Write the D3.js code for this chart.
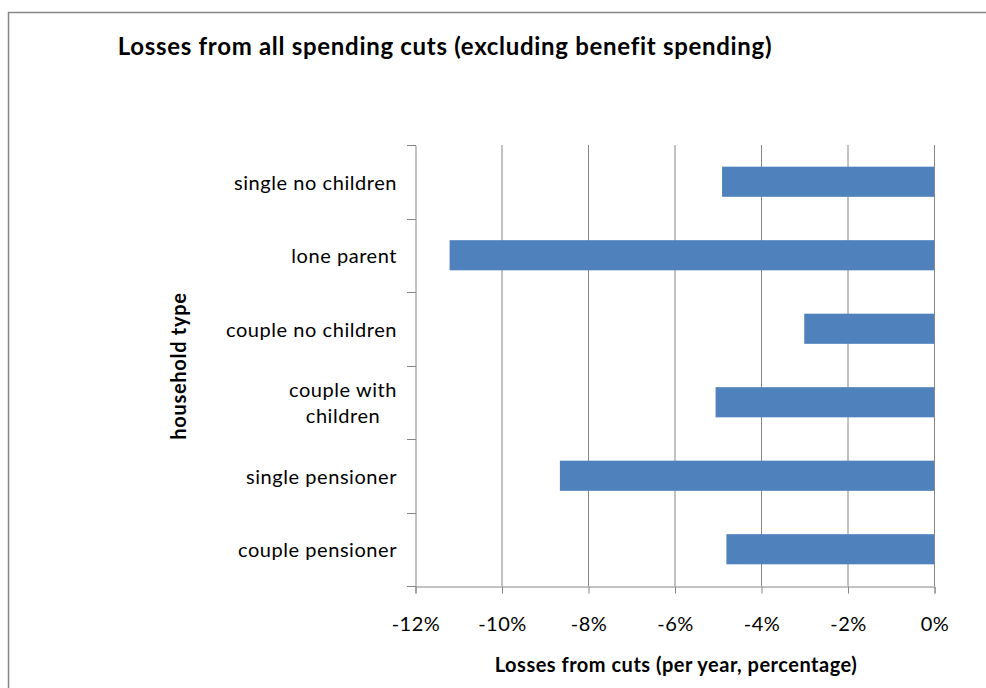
<!DOCTYPE html>
<html><head><meta charset="utf-8">
<script src="https://cdn.jsdelivr.net/npm/d3@7"></script>
<style>body{margin:0;background:#fff;} svg{display:block;}</style>
</head><body>
<svg id="c" width="986" height="688"></svg>
<script>
const categories = ["single no children","lone parent","couple no children","couple with children","single pensioner","couple pensioner"];
const labelLines = [["single no children"],["lone parent"],["couple no children"],["couple with","children"],["single pensioner"],["couple pensioner"]];
const values = [-4.9,-11.2,-3.0,-5.05,-8.65,-4.8];
const xTicks = [-12,-10,-8,-6,-4,-2,0];
const title = "Losses from all spending cuts (excluding benefit spending)";
const xTitle = "Losses from cuts (per year, percentage)";
const yTitle = "household type";

const font = "Lato, 'Open Sans', sans-serif";
const svg = d3.select("#c");
svg.append("rect").attr("x",8.5).attr("y",12.5).attr("width",1000).attr("height",700)
  .attr("fill","#fff").attr("stroke","#868686").attr("stroke-width",1.5);

const x = d3.scaleLinear().domain([-12,0]).range([415,934]);
const y = d3.scaleBand().domain(categories).range([145,586]).paddingInner(0.59).paddingOuter(0.295);
const yb = d3.scaleBand().domain(categories).range([145,586]);

// gridlines
svg.append("g").selectAll("line").data(xTicks.slice(1)).join("line")
  .attr("x1",d=>x(d)+0.5).attr("x2",d=>x(d)+0.5).attr("y1",145).attr("y2",586)
  .attr("stroke","#868686").attr("stroke-width",1);

// bars
svg.append("g").selectAll("rect").data(values).join("rect")
  .attr("x",d=>x(d)).attr("width",d=>x(0)-x(d))
  .attr("y",(d,i)=>y(categories[i])).attr("height",y.bandwidth())
  .attr("fill","#4F81BD");

// x axis
const xa = svg.append("g").attr("transform","translate(0.5,586.5)")
  .call(d3.axisBottom(x).tickValues(xTicks).tickSize(7).tickPadding(23).tickFormat(d=>d+"%"));
xa.select(".domain").attr("stroke","#868686");
xa.selectAll(".tick line").attr("stroke","#868686");
xa.selectAll("text").attr("font-family",font).attr("font-size",20).attr("letter-spacing",0.5).attr("fill","#000");

// y axis
const ya = svg.append("g").attr("transform","translate(415.5,0.5)")
  .call(d3.axisLeft(yb).tickSize(0).tickFormat(""));
ya.select(".domain").attr("stroke","#868686");
const edges = categories.map(c=>yb(c)).concat([586]);
svg.append("g").selectAll("line").data(edges).join("line")
  .attr("x1",407).attr("x2",416).attr("y1",d=>Math.round(d)+0.5).attr("y2",d=>Math.round(d)+0.5)
  .attr("stroke","#868686");

// y labels
const lg = svg.append("g");
labelLines.forEach((lines,i)=>{
  const cy = yb(categories[i]) + yb.bandwidth()/2;
  const lh = 26;
  const t = lg.append("text").attr("font-family",font).attr("font-size",20)
    .attr("letter-spacing",0.55).attr("fill","#000");
  const n = lines.length;
  lines.forEach((ln,j)=>{
    t.append("tspan").attr("x",397).attr("y",cy + (j-(n-1)/2)*lh + 8).text(ln);
  });
  if(n>1){
    const ws = [];
    t.selectAll("tspan").each(function(){ws.push(this.getComputedTextLength());});
    const mw = Math.max(...ws);
    t.selectAll("tspan").attr("text-anchor","middle").attr("x",397-mw/2);
  } else {
    t.attr("text-anchor","end");
  }
});

svg.append("text").attr("x",445).attr("y",55).attr("text-anchor","middle")
  .attr("font-family",font).attr("font-size",24).attr("letter-spacing",0.7).attr("font-weight","bold").text(title);
svg.append("text").attr("x",676).attr("y",672).attr("text-anchor","middle")
  .attr("font-family",font).attr("font-size",20).attr("letter-spacing",0.5).attr("font-weight","bold").text(xTitle);
svg.append("text").attr("transform","translate(186,366) rotate(-90)").attr("text-anchor","middle")
  .attr("font-family",font).attr("font-size",20).attr("letter-spacing",0.7).attr("font-weight","bold").text(yTitle);
</script>
</body></html>
